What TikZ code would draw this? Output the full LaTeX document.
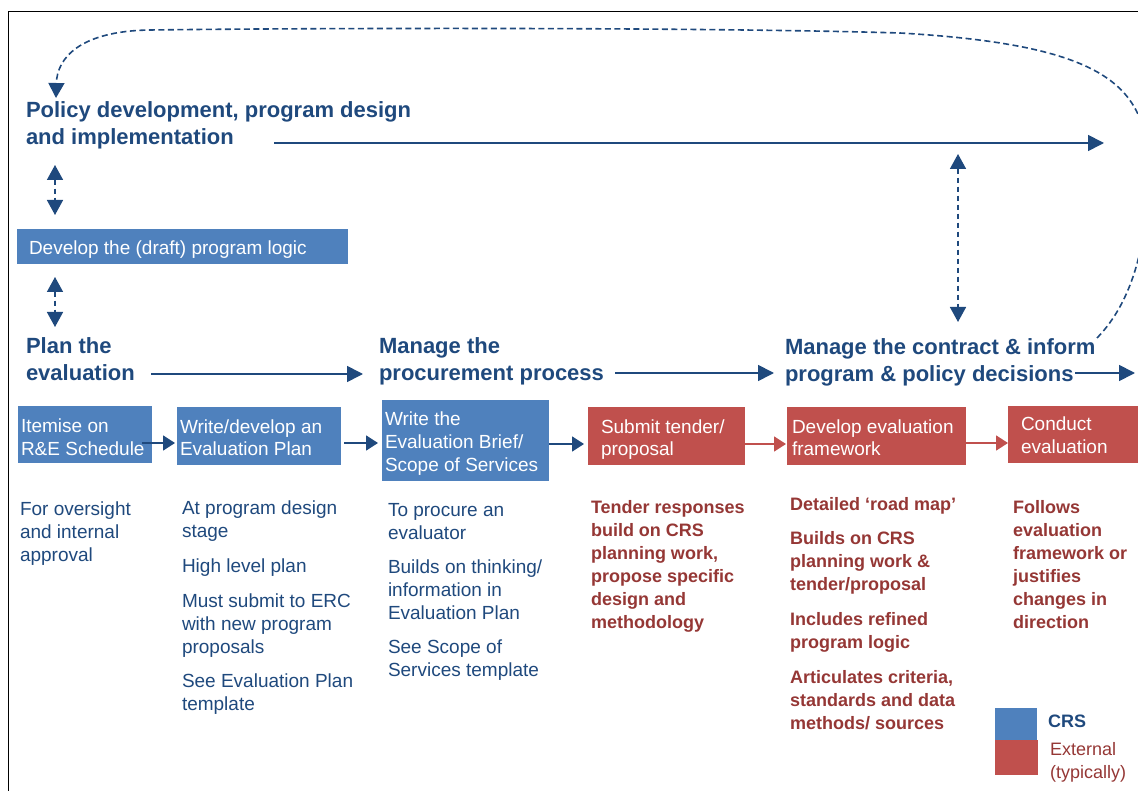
\documentclass[tikz,border=0pt]{standalone}
\usepackage{fontspec}
\setmainfont{Liberation Sans}
\usetikzlibrary{arrows.meta,calc}
\definecolor{crsblue}{HTML}{4F81BD}
\definecolor{extred}{HTML}{C0504D}
\definecolor{navy}{HTML}{1F497D}
\definecolor{darkred}{HTML}{953735}
% left-aligned block whose baseline is that of its first line
\newcommand{\stack}[1]{\begin{tabular}[t]{@{}l@{}}#1\end{tabular}}
\begin{document}
\begin{tikzpicture}[x=1pt,y=-1pt,
  txt/.style={anchor=base west, inner sep=0pt, outer sep=0pt},
  heading/.style={txt, text=navy, font=\fontsize{22}{27}\selectfont\bfseries},
  note/.style={txt, text=navy, font=\fontsize{19}{23}\selectfont},
  extnote/.style={txt, text=darkred, font=\fontsize{18}{23}\selectfont\bfseries},
  boxlabel/.style={txt, text=white, font=\fontsize{19}{23}\selectfont},
  crsbox/.style={fill=crsblue, draw=none, anchor=north west, inner sep=0pt, outer sep=0pt},
  extbox/.style={fill=extred, draw=none, anchor=north west, inner sep=0pt, outer sep=0pt},
  flow/.style={navy, line width=1.7pt, -{Triangle[length=16pt,width=16pt]}},
  stepflow/.style={navy, line width=1.7pt, -{Triangle[length=12pt,width=15pt]}},
  extflow/.style={extred, line width=1.7pt, -{Triangle[length=12pt,width=15pt]}},
  link/.style={navy, line width=1.6pt, dash pattern=on 5pt off 4pt,
    {Triangle[length=15pt,width=16pt]}-{Triangle[length=15pt,width=16pt]}},
  loop/.style={navy, line width=1.6pt, dash pattern=on 6pt off 3.5pt,
    -{Triangle[length=15pt,width=16pt]}},
]
\useasboundingbox (0,0) rectangle (1138,791);
\clip (0,0) rectangle (1138,791);

% frame
\draw[line width=1pt, black] (8,820) -- (8,12) -- (1160,12);

% headings
\node[heading] (pol) at (26,118) {\stack{Policy development, program design\\and implementation}};
\node[heading] (plan) at (26,354) {\stack{Plan the\\evaluation}};
\node[heading] (proc) at (379,354) {\stack{Manage the\\procurement process}};
\node[heading] (mgmt) at (785,355) {\stack{Manage the contract \& inform\\program \& policy decisions}};

% program logic box
\node[crsbox, minimum width=331pt, minimum height=35pt] (logic) at (17,229) {};
\node[boxlabel] (logict) at (29,255) {Develop the (draft) program logic};

% process boxes
\node[crsbox, minimum width=134pt, minimum height=57pt] (b1) at (18,406) {};
\node[crsbox, minimum width=164pt, minimum height=58pt] (b2) at (177,407) {};
\node[crsbox, minimum width=167pt, minimum height=81pt] (b3) at (382,400) {};
\node[extbox, minimum width=157pt, minimum height=58pt] (b4) at (588,407) {};
\node[extbox, minimum width=179pt, minimum height=58pt] (b5) at (787,407) {};
\node[extbox, minimum width=140pt, minimum height=57pt] (b6) at (1008,406) {};

\node[boxlabel] (b1t) at (21,432) {\stack{Itemise on\\R\&E Schedule}};
\node[boxlabel] (b2t) at (180,433) {\stack{Write/develop an\\Evaluation Plan}};
\node[boxlabel] (b3t) at (385,425) {\stack{Write the\\Evaluation Brief/\\Scope of Services}};
\node[boxlabel] (b4t) at (601,433) {\stack{Submit tender/\\proposal}};
\node[boxlabel] (b5t) at (792,433) {\stack{Develop evaluation\\framework}};
\node[boxlabel] (b6t) at (1021,431) {\stack{Conduct\\evaluation}};

% step arrows between boxes
\draw[stepflow] ([shift={(-10,8.5)}]b1.east) -- ([shift={(-2,7)}]b2.west);
\draw[stepflow] ([shift={(3,7)}]b2.east) -- ([shift={(-4,2.5)}]b3.west);
\draw[stepflow] ([shift={(0,3.5)}]b3.east) -- ([shift={(-4,8)}]b4.west);
\draw[extflow] ([shift={(0,8)}]b4.east) -- ([shift={(-1,8)}]b5.west);
\draw[extflow] ([shift={(0,7)}]b5.east) -- ([shift={(0,8.5)}]b6.west);

% notes under each box
\node[note] (n1) at (20,515) {\stack{For oversight\\and internal\\approval}};
\node[note] (n2) at (182,514) {\stack{At program design\\stage\\[12pt]High level plan\\[12pt]Must submit to ERC\\with new program\\proposals\\[11pt]See Evaluation Plan\\template}};
\node[note] (n3) at (388,516) {\stack{To procure an\\evaluator\\[11pt]Builds on thinking/\\information in\\Evaluation Plan\\[11pt]See Scope of\\Services template}};
\node[extnote] (n4) at (591,513) {\stack{Tender responses\\build on CRS\\planning work,\\propose specific\\design and\\methodology}};
\node[extnote] (n5) at (790,510) {\stack{Detailed ‘road map’\\[11pt]Builds on CRS\\planning work \&\\tender/proposal\\[12pt]Includes refined\\program logic\\[12pt]Articulates criteria,\\standards and data\\methods/ sources}};
\node[extnote] (n6) at (1013,513) {\stack{Follows\\evaluation\\framework or\\justifies\\changes in\\direction}};

% stage arrows
\coordinate (polA) at (274,143);  \coordinate (polB) at (1104,143);
\coordinate (planA) at (151,374); \coordinate (planB) at (363,374);
\coordinate (procA) at (615,373); \coordinate (procB) at (774,373);
\coordinate (mgmtA) at (1075,373); \coordinate (mgmtB) at (1135,373);
\draw[flow] (polA) -- (polB);
\draw[flow] (planA) -- (planB);
\draw[flow] (procA) -- (procB);
\draw[flow] (mgmtA) -- (mgmtB);

% two-way links
\coordinate (l1a) at (55,165); \coordinate (l1b) at (55,215);
\coordinate (l2a) at (55,277); \coordinate (l2b) at (55,327);
\coordinate (l3a) at (958,154); \coordinate (l3b) at (958,322);
\draw[link] (l1a) -- (l1b);
\draw[link] (l2a) -- (l2b);
\draw[link] (l3a) -- (l3b);

% feedback loop back to policy development
\coordinate (loopA) at (1097,338);
\coordinate (loopB) at (56,98);
\draw[loop] (loopA) .. controls (1134,300) and (1148,240) .. (1148,170)
  .. controls (1148,85) and (1105,45) .. (900,33)
  .. controls (700,27) and (300,28) .. (150,30)
  .. controls (80,31) and (57,58) .. (loopB);

% legend
\node[crsbox, minimum width=42pt, minimum height=32pt] (legc) at (995,708) {};
\node[extbox, minimum width=43pt, minimum height=35pt] (lege) at (995,740) {};
\node[txt, text=navy, font=\fontsize{18}{23}\selectfont\bfseries] (legct) at (1048,727) {CRS};
\node[txt, text=darkred, font=\fontsize{18}{23}\selectfont] (leget) at (1050,755) {\stack{External\\(typically)}};
\end{tikzpicture}
\end{document}
